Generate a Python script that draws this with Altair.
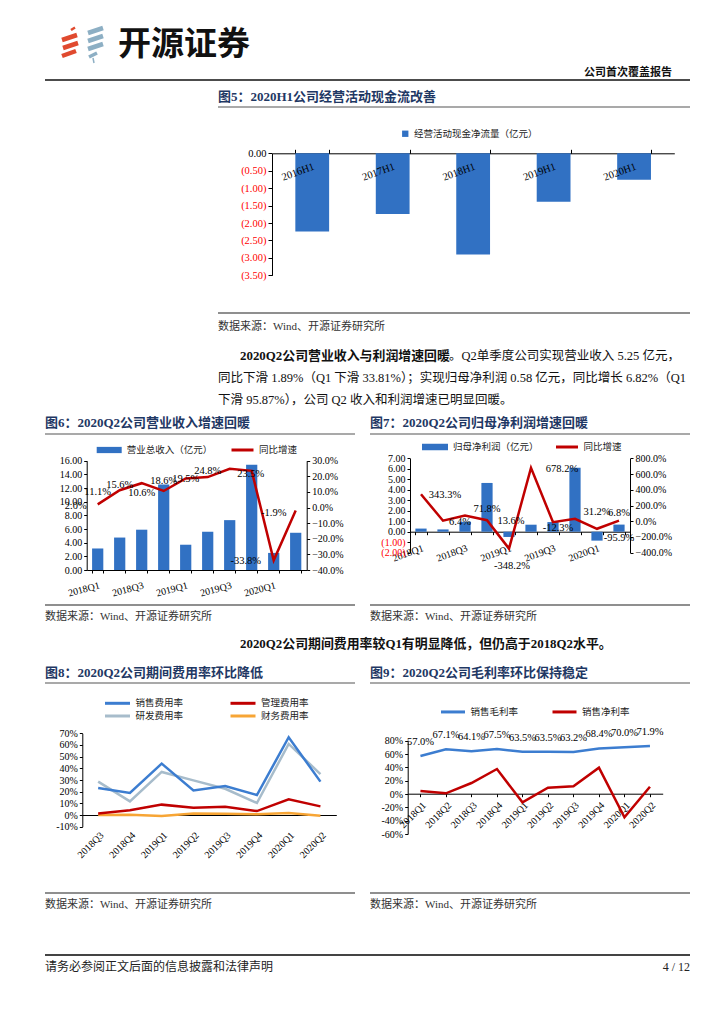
import json
import altair as alt
import pandas as pd

# ---------------- data ----------------
cf_periods = ["2016H1", "2017H1", "2018H1", "2019H1", "2020H1"]
cf_values = [-2.24, -1.74, -2.90, -1.39, -0.76]
cf_name = "经营活动现金净流量（亿元）"

quarters = ["2018Q1", "2018Q2", "2018Q3", "2018Q4", "2019Q1",
            "2019Q2", "2019Q3", "2019Q4", "2020Q1", "2020Q2"]
quarter_ticks = ["2018Q1", "2018Q3", "2019Q1", "2019Q3", "2020Q1"]

revenue = [3.15, 4.75, 5.9, 12.5, 3.7, 5.6, 7.3, 15.4, 2.5, 5.45]
revenue_yoy = [2.0, 11.1, 15.6, 10.6, 18.6, 19.5, 24.8, 23.5, -33.8, -1.9]
revenue_name = "营业总收入（亿元）"
yoy_name = "同比增速"

profit = [0.3, 0.22, 0.95, 4.65, -0.5, 0.67, 0.92, 6.1, -0.85, 0.68]
profit_yoy = [343.3, 6.4, 71.8, 13.6, -348.2, 678.2, -12.3, 31.2, -95.9, 6.8]
profit_name = "归母净利润（亿元）"

opex_quarters = ["2018Q3", "2018Q4", "2019Q1", "2019Q2",
                 "2019Q3", "2019Q4", "2020Q1", "2020Q2"]
selling_rate = [23.1, 18.9, 44.0, 21.1, 24.9, 17.1, 66.6, 28.6]
admin_rate = [1.4, 4.0, 8.9, 6.3, 7.1, 3.4, 13.4, 7.4]
rd_rate = [28.6, 11.7, 36.9, 29.7, 22.5, 10.3, 60.9, 35.1]
finance_rate = [0.0, 0.2, -0.9, 1.4, 1.1, 0.6, 1.7, -0.6]
opex_names = ["销售费用率", "管理费用率", "研发费用率", "财务费用率"]

gross_margin = [57.0, 67.1, 64.1, 67.5, 63.5, 63.5, 63.2, 68.4, 70.0, 71.9]
net_margin = [4.5, 1.0, 16.5, 37.5, -12.5, 9.5, 11.5, 39.5, -35.0, 11.0]
margin_names = ["销售毛利率", "销售净利率"]

# ---------------- page text ----------------
brand = "开源证券"
report_type = "公司首次覆盖报告"
fig_titles = ["图5：2020H1公司经营活动现金流改善",
              "图6：2020Q2公司营业收入增速回暖",
              "图7：2020Q2公司归母净利润增速回暖",
              "图8：2020Q2公司期间费用率环比降低",
              "图9：2020Q2公司毛利率环比保持稳定"]
source = "数据来源：Wind、开源证券研究所"
para_bold = "2020Q2公司营业收入与利润增速回暖"
para_1 = "。Q2单季度公司实现营业收入 5.25 亿元，"
para_2 = "同比下滑 1.89%（Q1 下滑 33.81%）；实现归母净利润 0.58 亿元，同比增长 6.82%（Q1"
para_3 = "下滑 95.87%），公司 Q2 收入和利润增速已明显回暖。"
summary = "2020Q2公司期间费用率较Q1有明显降低，但仍高于2018Q2水平。"
footer = "请务必参阅正文后面的信息披露和法律声明"
page_no = "4 / 12"

# ---------------- style ----------------
W, H = 708, 1008
SERIF = "Liberation Serif, Noto Sans CJK SC"
SANS = "Noto Sans CJK SC"
BLUE = "#3171C3"
RED = "#C00000"
NAVY = "#1F3864"
LINE_BLUE = "#3C7DD0"
GRAY_BLUE = "#A7BCCB"
ORANGE = "#F7A535"
RULE = "#6a6a6a"
NEG_COLOR = {"condition": {"test": "datum.value < 0", "value": "#FF0000"}, "value": "#000000"}
RECT_PATH = "M-1,-0.25H1V0.25H-1Z"

one = pd.DataFrame({"k": [0]})


def text(x, y, s, size=12.5, weight="normal", color="#1a1a1a", align="left", font=SERIF):
    return alt.Chart(one).mark_text(align=align, baseline="middle", fontSize=size,
                                    fontWeight=weight, color=color, font=font).encode(
        x=alt.value(x), y=alt.value(y), text=alt.value(s))


def hrule(x1, x2, y, color=RULE, width=1.5):
    return alt.Chart(one).mark_rule(color=color, strokeWidth=width).encode(
        x=alt.value(x1), x2=alt.value(x2), y=alt.value(y))


def seg(x1, y1, x2, y2, color, width):
    return alt.Chart(one).mark_rule(color=color, strokeWidth=width, strokeCap="butt").encode(
        x=alt.value(x1), y=alt.value(y1), x2=alt.value(x2), y2=alt.value(y2))


def yaxis(offset, values, orient="left", **kw):
    opts = dict(title=None, grid=False, labelOverlap=False, domainColor="#000", tickColor="#000",
                labelColor="#000", labelFont=SERIF, labelFontSize=10, orient=orient,
                offset=offset, values=values, tickSize=3, labelPadding=2)
    opts.update(kw)
    return alt.Axis(**opts)


def xaxis(offset, orient="bottom", **kw):
    opts = dict(title=None, grid=False, labelOverlap=False, domainColor="#000", tickColor="#000",
                labelColor="#000", labelFont=SERIF, labelFontSize=10, orient=orient, offset=offset)
    opts.update(kw)
    return alt.Axis(**opts)


def legend(x, y, **kw):
    opts = dict(orient="none", legendX=x, legendY=y, title=None, direction="horizontal",
                labelFont=SERIF, labelFontSize=9.5, labelColor="#222", padding=0, labelOffset=4)
    opts.update(kw)
    return alt.Legend(**opts)


layers = []

# ---------------- decorations ----------------
red, gblue = "#E04A2F", "#8DAFC4"
layers += [
    seg(54, 32, 69, 27, red, 4.5), seg(55, 40, 70, 35, red, 4.5), seg(54, 48, 68, 43, red, 4.5),
    seg(63, 22, 67, 19.5, red, 2.5),
    seg(80, 25, 95, 20, gblue, 4.5), seg(80, 33, 95, 28, gblue, 4.5), seg(80, 41, 95, 36, gblue, 4.5),
    seg(81, 49, 89, 45, gblue, 3.5), seg(85, 50, 86, 55, gblue, 1.5),
    text(110, 37, brand, size=33, weight="bold", color="#111", font=SANS),
    text(664, 65, report_type, size=11, weight="bold", color="#111", align="right"),
    hrule(37, 682, 72, color="#111", width=1.5),
    text(210, 89, fig_titles[0], size=13, weight="bold", color=NAVY),
    hrule(210, 682, 99, color="#8c8c8c"),
    hrule(210, 682, 305),
    text(210, 319, source, size=11, color="#333"),
    text(232, 348, para_bold, size=12.9, weight="bold", color="#111"),
    text(441, 348, para_1, size=12.5, color="#111"),
    text(210, 370, para_2, size=12.5, color="#111"),
    text(210, 392, para_3, size=12.5, color="#111"),
    text(37, 415, fig_titles[1], size=13, weight="bold", color=NAVY),
    text(362, 415, fig_titles[2], size=13, weight="bold", color=NAVY),
    hrule(37, 347, 426, color="#8c8c8c"), hrule(362, 682, 426, color="#8c8c8c"),
    hrule(37, 347, 597), hrule(362, 682, 597),
    text(37, 609, source, size=11, color="#333"),
    text(362, 609, source, size=11, color="#333"),
    text(232, 636, summary, size=12.9, weight="bold", color="#111"),
    text(37, 665, fig_titles[3], size=13, weight="bold", color=NAVY),
    text(362, 665, fig_titles[4], size=13, weight="bold", color=NAVY),
    hrule(37, 347, 675, color="#8c8c8c"), hrule(362, 682, 675, color="#8c8c8c"),
    hrule(37, 347, 885), hrule(362, 682, 885),
    text(37, 897, source, size=11, color="#333"),
    text(362, 897, source, size=11, color="#333"),
    hrule(37, 682, 947, color="#444", width=2),
    text(37, 959, footer, size=12, color="#222"),
    text(682, 959, page_no, size=12, color="#222", align="right"),
]

# ---------------- figure 5 ----------------
cf_df = pd.DataFrame({"period": cf_periods, "value": cf_values, "series": cf_name})


def x5(axis=None):
    return alt.X("period:N", title=None, axis=axis,
                 scale=alt.Scale(domain=cf_periods, range=[264, 666.3], paddingInner=0.58, paddingOuter=0.29))


y5 = alt.Y("value:Q", title=None,
           scale=alt.Scale(domain=[-3.5, 0], range=[267.3, 145.3], nice=False, zero=False),
           axis=yaxis(-264, [0, -0.5, -1, -1.5, -2, -2.5, -3, -3.5], tickSize=4, labelFontSize=10.5,
                      labelExpr="datum.value == 0 ? '0.00' : '(' + format(-datum.value, '.2f') + ')'",
                      labelColor=NEG_COLOR))
layers.append(alt.Chart(cf_df).mark_bar().encode(
    x=x5(xaxis(-145.3, orient="top", labels=False, tickSize=4, tickBand="extent")),
    y=y5,
    color=alt.Color("series:N", scale=alt.Scale(domain=[cf_name], range=[BLUE]),
                    legend=legend(392.5, 121, symbolType="square", symbolSize=40))))
layers.append(alt.Chart(cf_df).mark_text(angle=340, font=SERIF, fontSize=10.5, color="#000", dx=-15).encode(
    x=x5(None), y=alt.value(159), text="period:N"))

# ---------------- figure 6 ----------------
QEXPR = "indexof(" + json.dumps(quarter_ticks) + ", datum.value) >= 0 ? datum.value : ''"


def xq(rng, axis=None, pad=0.49):
    return alt.X("q:N", title=None, axis=axis,
                 scale=alt.Scale(domain=quarters, range=rng, paddingInner=pad, paddingOuter=pad / 2))


rev_df = pd.DataFrame({"q": quarters, "rev": revenue, "yoy": revenue_yoy,
                       "s1": revenue_name, "s2": yoy_name})
rev_df["lab"] = [f"{v:.1f}%" for v in revenue_yoy]
R6 = [78.7, 298.7]


def y6r(axis=None):
    return alt.Y("yoy:Q", title=None, axis=axis,
                 scale=alt.Scale(domain=[-40, 30], range=[562, 452.7], nice=False, zero=False))


layers.append(alt.Chart(rev_df).mark_bar().encode(
    x=xq(R6, xaxis(-446, labelExpr=QEXPR, labelAngle=345, labelAlign="right", labelBaseline="top",
                   labelPadding=7, tickBand="extent", tickSize=3)),
    y=alt.Y("rev:Q", title=None,
            scale=alt.Scale(domain=[0, 16], range=[562, 452.7], nice=False, zero=False),
            axis=yaxis(-78.7, list(range(0, 17, 2)), format=".2f")),
    color=alt.Color("s1:N", scale=alt.Scale(domain=[revenue_name], range=[BLUE]),
                    legend=legend(87.7, 428.5, symbolType=RECT_PATH, symbolSize=625))))
layers.append(alt.Chart(rev_df).mark_line(strokeWidth=2.5).encode(
    x=xq(R6),
    y=y6r(yaxis(-409.3, list(range(-40, 31, 10)), orient="right",
                labelExpr="format(datum.value, '.1f') + '%'")),
    stroke=alt.Stroke("s2:N", scale=alt.Scale(domain=[yoy_name], range=[RED]),
                      legend=legend(222, 429.5, symbolType="stroke", symbolSize=484, symbolStrokeWidth=3))))
rev_label_groups = [
    (["2018Q1", "2018Q2", "2018Q3", "2018Q4", "2019Q1", "2019Q2", "2019Q3", "2020Q2"], -22, 2),
    (["2019Q4"], -1, 3),
    (["2020Q1"], -28, 1),
]
for members, dx, dy in rev_label_groups:
    layers.append(alt.Chart(rev_df).transform_filter(
        alt.FieldOneOfPredicate(field="q", oneOf=members)).mark_text(
        dx=dx, dy=dy, font=SERIF, fontSize=10.5, color="#000").encode(
        x=xq(R6), y=y6r(None), text="lab:N"))

# ---------------- figure 7 ----------------
pr_df = pd.DataFrame({"q": quarters, "profit": profit, "yoy": profit_yoy,
                      "s1": profit_name, "s2": yoy_name})
pr_df["lab"] = [f"{v:.1f}%" for v in profit_yoy]
R7 = [402, 622]


def y7r(axis=None):
    return alt.Y("yoy:Q", title=None, axis=axis,
                 scale=alt.Scale(domain=[-400, 800], range=[544.7, 450.3], nice=False, zero=False))


layers.append(alt.Chart(pr_df).mark_bar().encode(
    x=xq(R7, xaxis(-484.3, labelExpr=QEXPR, labelAngle=340, labelAlign="right", labelBaseline="top",
                   labelPadding=8, tickBand="extent", tickSize=3)),
    y=alt.Y("profit:Q", title=None,
            scale=alt.Scale(domain=[-2, 7], range=[544.7, 450.3], nice=False, zero=False),
            axis=yaxis(-402, list(range(-2, 8)), labelColor=NEG_COLOR,
                       labelExpr="datum.value < 0 ? '(' + format(-datum.value, '.2f') + ')' : format(datum.value, '.2f')")),
    color=alt.Color("s1:N", scale=alt.Scale(domain=[profit_name], range=[BLUE]),
                    legend=legend(413, 425, symbolType=RECT_PATH, symbolSize=676))))
layers.append(alt.Chart(pr_df).mark_line(strokeWidth=2.5).encode(
    x=xq(R7),
    y=y7r(yaxis(-86, list(range(-400, 801, 200)), orient="right",
                labelExpr="format(datum.value, '.1f') + '%'")),
    stroke=alt.Stroke("s2:N", scale=alt.Scale(domain=[yoy_name], range=[RED]),
                      legend=legend(546.5, 426.5, symbolType="stroke", symbolSize=484, symbolStrokeWidth=3))))
profit_label_groups = [
    (["2018Q1", "2018Q4"], 24, 1),
    (["2018Q2"], 17, 1),
    (["2019Q2"], 31, 1),
    (["2018Q3", "2019Q4"], 22, -7),
    (["2020Q1"], 22, 9),
    (["2019Q3"], 5, 6),
    (["2019Q1"], 3, 17),
    (["2020Q2"], 0, -8),
]
for members, dx, dy in profit_label_groups:
    layers.append(alt.Chart(pr_df).transform_filter(
        alt.FieldOneOfPredicate(field="q", oneOf=members)).mark_text(
        dx=dx, dy=dy, font=SERIF, fontSize=10.5, color="#000").encode(
        x=xq(R7), y=y7r(None), text="lab:N"))

# ---------------- figure 8 ----------------
rows = []
for name, vals in zip(opex_names, [selling_rate, admin_rate, rd_rate, finance_rate]):
    for q, v in zip(opex_quarters, vals):
        rows.append({"q": q, "series": name, "v": v})
opex_df = pd.DataFrame(rows)


def x8(axis=None):
    return alt.X("q:N", title=None, axis=axis,
                 scale=alt.Scale(type="point", domain=opex_quarters, range=[74.3, 328.3], padding=0.5))


def y8(axis=None):
    return alt.Y("v:Q", title=None, axis=axis,
                 scale=alt.Scale(domain=[-10, 70], range=[818.7, 725.3], nice=False, zero=False))


layers.append(alt.Chart(opex_df).transform_filter(
    alt.FieldOneOfPredicate(field="series", oneOf=opex_names[2:])).mark_line(strokeWidth=2.5).encode(
    x=x8(xaxis(-201, labels=False, ticks=False)),
    y=y8(None),
    color=alt.Color("series:N", scale=alt.Scale(domain=opex_names[2:], range=[GRAY_BLUE, ORANGE]),
                    legend=legend(95.5, 694, symbolType="stroke", symbolSize=625, symbolStrokeWidth=3,
                                  columnPadding=40.5))))
layers.append(alt.Chart(opex_df).transform_filter(
    alt.FieldOneOfPredicate(field="series", oneOf=opex_names[:2])).mark_line(strokeWidth=2.5).encode(
    x=x8(xaxis(-189.3, domain=False, ticks=False, labelAngle=315, labelAlign="right",
               labelBaseline="top", labelPadding=3)),
    y=y8(yaxis(-74.3, list(range(-10, 71, 10)), labelExpr="datum.value + '%'")),
    color=alt.Color("series:N", scale=alt.Scale(domain=opex_names[:2], range=[LINE_BLUE, RED]),
                    legend=legend(95.5, 681.3, symbolType="stroke", symbolSize=625, symbolStrokeWidth=3,
                                  columnPadding=40.5))))

# ---------------- figure 9 ----------------
rows = []
for name, vals in zip(margin_names, [gross_margin, net_margin]):
    for q, v in zip(quarters, vals):
        rows.append({"q": q, "series": name, "v": v, "lab": f"{v:.1f}%"})
margin_df = pd.DataFrame(rows)


def x9(axis=None):
    return alt.X("q:N", title=None, axis=axis,
                 scale=alt.Scale(type="point", domain=quarters, range=[399.7, 654.7], padding=0.5))


def y9(axis=None):
    return alt.Y("v:Q", title=None, axis=axis,
                 scale=alt.Scale(domain=[-60, 80], range=[826, 732.7], nice=False, zero=False))


layers.append(alt.Chart(margin_df).mark_line(strokeWidth=2.5).encode(
    x=x9(xaxis(-222.3, labelAngle=315, labelAlign="right", labelBaseline="top", labelPadding=3, tickSize=3)),
    y=y9(yaxis(-399.7, list(range(-60, 81, 20)), labelExpr="datum.value + '%'")),
    color=alt.Color("series:N", scale=alt.Scale(domain=margin_names, range=[LINE_BLUE, RED]),
                    legend=legend(431.5, 690.2, symbolType="stroke", symbolSize=576, symbolStrokeWidth=3,
                                  columnPadding=27.5))))
layers.append(alt.Chart(margin_df).transform_filter(
    alt.FieldEqualPredicate(field="series", equal=margin_names[0])).mark_text(
    dy=-14, font=SERIF, fontSize=10.5, color="#000").encode(
    x=x9(None), y=y9(None), text="lab:N"))

# ---------------- page ----------------
chart = alt.layer(*layers).resolve_scale(
    x="independent", y="independent", color="independent", stroke="independent"
).properties(
    width=W, height=H, padding=0, background="white",
    autosize=alt.AutoSizeParams(type="none"),
).configure_view(stroke=None)

chart.save("out.html", embed_options={"renderer": "svg", "actions": False})
